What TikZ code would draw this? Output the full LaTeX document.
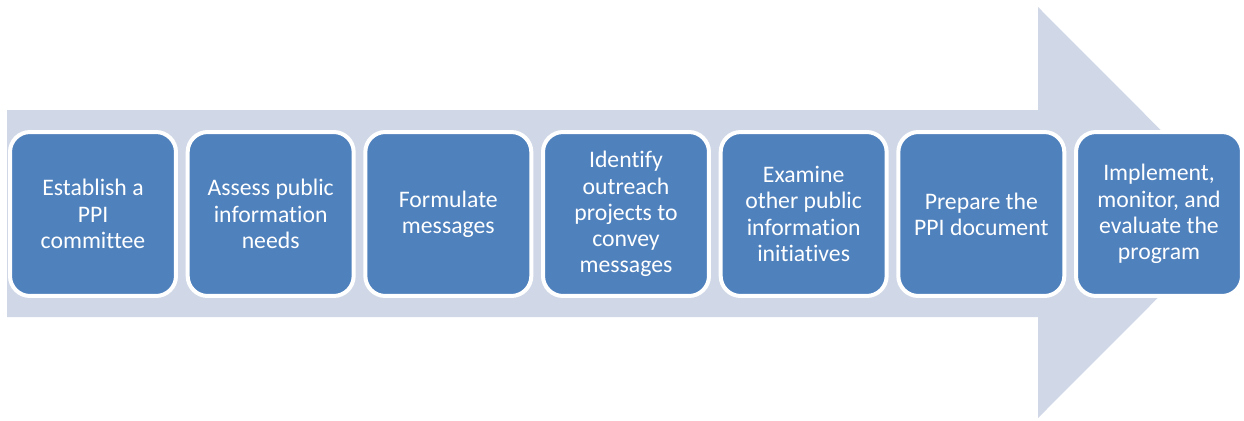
\documentclass[tikz,border=0pt]{standalone}
\usepackage{fontspec}
\setmainfont{Carlito}[Ligatures=NoCommon]
\usetikzlibrary{positioning}
\definecolor{stepblue}{HTML}{4F81BD}
\definecolor{arrowgray}{HTML}{D0D8E8}
\tikzset{
  stepbox/.style={rectangle,rounded corners=0.4cm,fill=stepblue,draw=white,
    line width=0.08cm,minimum width=3.32cm,minimum height=3.28cm,
    inner sep=0pt,align=center,text=white,font=\fontsize{13.5}{14.9}\selectfont},
}
\begin{document}
\begin{tikzpicture}[x=0.02cm,y=-0.02cm,node distance=0.154cm]
    \useasboundingbox (0,0) rectangle (1244,420);
    % big arrow behind the steps
    \coordinate(P1)at(7,110);
    \coordinate(P2)at(1038,110);
    \coordinate(P3)at(1038,7);
    \coordinate(T)at(1243,212.5);
    \coordinate(P4)at(1038,418);
    \coordinate(P5)at(1038,317);
    \coordinate(P6)at(7,317);
    \fill[arrowgray](P1)--(P2)--(P3)--(T)--(P4)--(P5)--(P6)--cycle;

    % steps
    \node[stepbox](s1)at(93,214){Establish a\\PPI\\committee};
    \node[stepbox,right=of s1](s2){Assess public\\information\\needs};
    \node[stepbox,right=of s2](s3){Formulate\\messages};
    \node[stepbox,right=of s3](s4){Identify\\outreach\\projects to\\convey\\messages};
    \node[stepbox,right=of s4](s5){Examine\\other public\\information\\initiatives};
    \node[stepbox,right=of s5](s6){Prepare the\\PPI document};
    \node[stepbox,right=of s6](s7){Implement,\\monitor, and\\evaluate the\\program};
\end{tikzpicture}
\end{document}
